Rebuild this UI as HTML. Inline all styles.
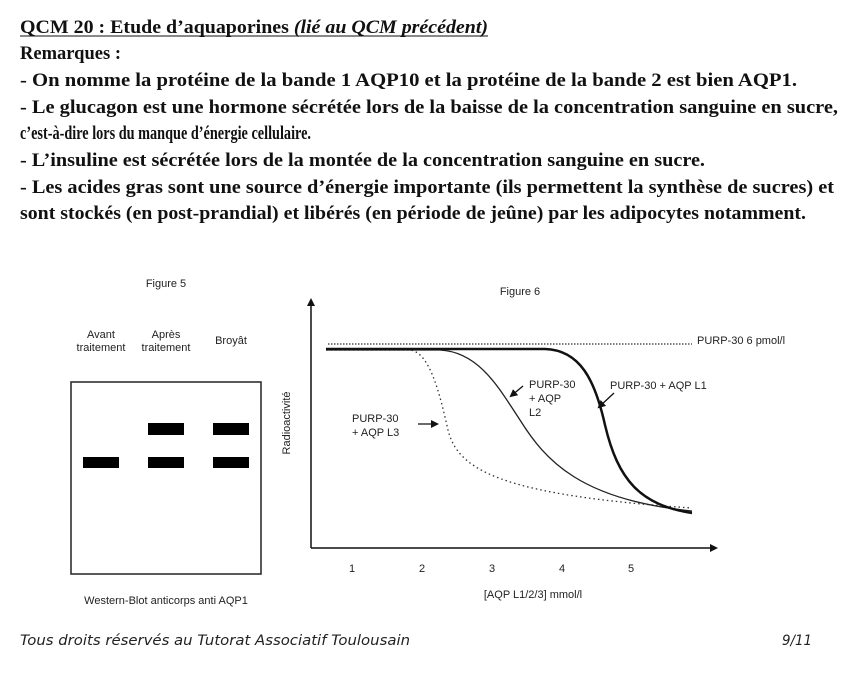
<!DOCTYPE html>
<html><head><meta charset="utf-8"><style>
html,body{margin:0;padding:0;background:#fff;}
svg{display:block;}
.h{font-family:"Liberation Serif",serif;font-weight:bold;font-size:19px;fill:#111;}
.s{font-family:"Liberation Sans",sans-serif;font-size:11px;fill:#222;}
.f{font-family:"DejaVu Sans","Liberation Sans",sans-serif;font-style:italic;font-size:14px;fill:#222;}
</style></head><body>
<svg width="862" height="673" viewBox="0 0 862 673" xmlns="http://www.w3.org/2000/svg">
<defs><marker id="ar" markerWidth="8" markerHeight="8" refX="6" refY="4" orient="auto" markerUnits="userSpaceOnUse"><path d="M0,0 L8,4 L0,8 z" fill="#111"/></marker></defs>
<text class="h" x="20" y="33" textLength="468" lengthAdjust="spacingAndGlyphs">QCM 20 : Etude d’aquaporines <tspan font-style="italic">(lié au QCM précédent)</tspan></text>
<line x1="20" y1="36" x2="488" y2="36" stroke="#111" stroke-width="1"/>
<text class="h" x="20" y="59" textLength="101" lengthAdjust="spacingAndGlyphs">Remarques :</text>
<text class="h" x="20" y="86" textLength="777" lengthAdjust="spacingAndGlyphs">- On nomme la protéine de la bande 1 AQP10 et la protéine de la bande 2 est bien AQP1.</text>
<text class="h" x="20" y="113" textLength="818" lengthAdjust="spacingAndGlyphs">- Le glucagon est une hormone sécrétée lors de la baisse de la concentration sanguine en sucre,</text>
<text class="h" x="20" y="139" textLength="291" lengthAdjust="spacingAndGlyphs">c’est-à-dire lors du manque d’énergie cellulaire.</text>
<text class="h" x="20" y="166" textLength="685" lengthAdjust="spacingAndGlyphs">- L’insuline est sécrétée lors de la montée de la concentration sanguine en sucre.</text>
<text class="h" x="20" y="193" textLength="814" lengthAdjust="spacingAndGlyphs">- Les acides gras sont une source d’énergie importante (ils permettent la synthèse de sucres) et</text>
<text class="h" x="20" y="219" textLength="786" lengthAdjust="spacingAndGlyphs">sont stockés (en post-prandial) et libérés (en période de jeûne) par les adipocytes notamment.</text>

<!-- Figure 5 -->
<text class="s" x="166" y="287" text-anchor="middle">Figure 5</text>
<text class="s" x="101" y="338" text-anchor="middle" font-size="10">Avant</text>
<text class="s" x="101" y="351" text-anchor="middle" font-size="10">traitement</text>
<text class="s" x="166" y="338" text-anchor="middle" font-size="10">Après</text>
<text class="s" x="166" y="351" text-anchor="middle" font-size="10">traitement</text>
<text class="s" x="231" y="344" text-anchor="middle" font-size="10">Broyât</text>
<rect x="71" y="382" width="190" height="192" fill="none" stroke="#222" stroke-width="1.5"/>
<rect x="83" y="457" width="36" height="11" fill="#000"/>
<rect x="148" y="423" width="36" height="12" fill="#000"/>
<rect x="148" y="457" width="36" height="11" fill="#000"/>
<rect x="213" y="423" width="36" height="12" fill="#000"/>
<rect x="213" y="457" width="36" height="11" fill="#000"/>
<text class="s" x="166" y="604" text-anchor="middle" font-size="10">Western-Blot anticorps anti AQP1</text>

<!-- Figure 6 -->
<text class="s" x="520" y="295" text-anchor="middle">Figure 6</text>
<line x1="311" y1="548" x2="311" y2="300" stroke="#111" stroke-width="1.5" marker-end="url(#ar)"/>
<line x1="311" y1="548" x2="716" y2="548" stroke="#111" stroke-width="1.5" marker-end="url(#ar)"/>
<text class="s" transform="translate(290,423) rotate(-90)" text-anchor="middle">Radioactivité</text>
<g class="s" font-size="9" text-anchor="middle">
<text x="352" y="572">1</text><text x="422" y="572">2</text><text x="492" y="572">3</text><text x="562" y="572">4</text><text x="631" y="572">5</text>
</g>
<text class="s" x="533" y="598" text-anchor="middle">[AQP L1/2/3] mmol/l</text>
<line x1="328" y1="344" x2="692" y2="344" stroke="#333" stroke-width="1.2" stroke-dasharray="1.5,1.5"/>
<text class="s" x="697" y="344">PURP-30 6 pmol/l</text>
<path d="M326,350 L410,350 C430,352 440,395 448,430 C458,470 500,495 692,508" fill="none" stroke="#333" stroke-width="1.3" stroke-dasharray="1.5,3"/>
<path d="M326,350 L440,350 C480,352 500,390 520,420 C545,460 580,500 692,511" fill="none" stroke="#222" stroke-width="1.3"/>
<path d="M326,349 L545,349 C580,350 595,380 605,425 C618,480 640,505 692,513" fill="none" stroke="#111" stroke-width="2.5"/>
<text class="s" x="352" y="422">PURP-30</text>
<text class="s" x="352" y="436">+ AQP L3</text>
<line x1="418" y1="424" x2="437" y2="424" stroke="#111" stroke-width="1.3" marker-end="url(#ar)"/>
<text class="s" x="529" y="388">PURP-30</text>
<text class="s" x="529" y="402">+ AQP</text>
<text class="s" x="529" y="416">L2</text>
<line x1="523" y1="386" x2="511" y2="396" stroke="#111" stroke-width="1.3" marker-end="url(#ar)"/>
<text class="s" x="610" y="389">PURP-30 + AQP L1</text>
<line x1="614" y1="393" x2="599" y2="407" stroke="#111" stroke-width="1.3" marker-end="url(#ar)"/>

<text class="f" x="20" y="645" textLength="390" lengthAdjust="spacingAndGlyphs">Tous droits réservés au Tutorat Associatif Toulousain</text>
<text class="f" x="782" y="645" textLength="30" lengthAdjust="spacingAndGlyphs">9/11</text>
</svg>
</body></html>
